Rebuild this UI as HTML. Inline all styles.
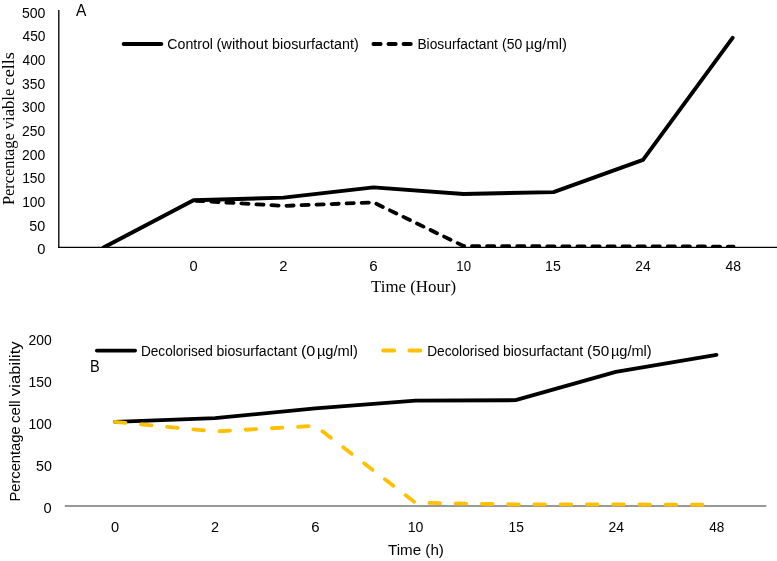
<!DOCTYPE html>
<html>
<head>
<meta charset="utf-8">
<title>Charts</title>
<style>
html,body{margin:0;padding:0;background:#fff;}
body{width:777px;height:561px;overflow:hidden;font-family:"Liberation Sans",sans-serif;}
svg{display:block;will-change:transform;}
.s{font-family:"Liberation Sans",sans-serif;fill:#000;}
.r{font-family:"Liberation Serif",serif;fill:#000;}
</style>
</head>
<body>
<svg width="777" height="561" viewBox="0 0 777 561">
<rect x="0" y="0" width="777" height="561" fill="#ffffff"/>
<defs>
<clipPath id="clipA"><rect x="59" y="0" width="718" height="247.4"/></clipPath>
</defs>

<!-- text -->
<text class="s" font-size="13.8" x="167.34" y="48.90" textLength="45.68" lengthAdjust="spacingAndGlyphs">Control</text>
<text class="s" font-size="13.8" x="216.44" y="48.90" textLength="51.54" lengthAdjust="spacingAndGlyphs">(without</text>
<text class="s" font-size="13.8" x="272.05" y="48.90" textLength="86.64" lengthAdjust="spacingAndGlyphs">biosurfactant)</text>
<text class="s" font-size="13.8" x="417.39" y="48.90" textLength="80.54" lengthAdjust="spacingAndGlyphs">Biosurfactant</text>
<text class="s" font-size="13.8" x="502.08" y="48.90" textLength="20.25" lengthAdjust="spacingAndGlyphs">(50</text>
<text class="s" font-size="13.8" x="525.60" y="48.90" textLength="41.29" lengthAdjust="spacingAndGlyphs">µg/ml)</text>
<text class="s" font-size="13.8" x="140.91" y="355.50" textLength="72.01" lengthAdjust="spacingAndGlyphs">Decolorised</text>
<text class="s" font-size="13.8" x="216.53" y="355.50" textLength="80.75" lengthAdjust="spacingAndGlyphs">biosurfactant</text>
<text class="s" font-size="13.8" x="300.95" y="355.50" textLength="14.42" lengthAdjust="spacingAndGlyphs">(0</text>
<text class="s" font-size="13.8" x="316.91" y="355.50" textLength="40.99" lengthAdjust="spacingAndGlyphs">µg/ml)</text>
<text class="s" font-size="13.8" x="427.18" y="355.50" textLength="72.28" lengthAdjust="spacingAndGlyphs">Decolorised</text>
<text class="s" font-size="13.8" x="502.94" y="355.50" textLength="80.22" lengthAdjust="spacingAndGlyphs">biosurfactant</text>
<text class="s" font-size="13.8" x="587.08" y="355.50" textLength="22.11" lengthAdjust="spacingAndGlyphs">(50</text>
<text class="s" font-size="13.8" x="610.93" y="355.50" textLength="40.78" lengthAdjust="spacingAndGlyphs">µg/ml)</text>
<text class="s" font-size="13.8" x="37.16" y="254.35" textLength="8.17" lengthAdjust="spacingAndGlyphs">0</text>
<text class="s" font-size="13.8" x="29.31" y="230.66" textLength="15.96" lengthAdjust="spacingAndGlyphs">50</text>
<text class="s" font-size="13.8" x="22.16" y="206.98" textLength="23.15" lengthAdjust="spacingAndGlyphs">100</text>
<text class="s" font-size="13.8" x="22.16" y="183.30" textLength="23.15" lengthAdjust="spacingAndGlyphs">150</text>
<text class="s" font-size="13.8" x="22.11" y="159.61" textLength="23.18" lengthAdjust="spacingAndGlyphs">200</text>
<text class="s" font-size="13.8" x="22.11" y="135.93" textLength="23.18" lengthAdjust="spacingAndGlyphs">250</text>
<text class="s" font-size="13.8" x="22.12" y="112.24" textLength="23.16" lengthAdjust="spacingAndGlyphs">300</text>
<text class="s" font-size="13.8" x="22.12" y="88.56" textLength="23.16" lengthAdjust="spacingAndGlyphs">350</text>
<text class="s" font-size="13.8" x="22.50" y="64.87" textLength="22.93" lengthAdjust="spacingAndGlyphs">400</text>
<text class="s" font-size="13.8" x="22.50" y="41.19" textLength="22.93" lengthAdjust="spacingAndGlyphs">450</text>
<text class="s" font-size="13.8" x="21.91" y="17.50" textLength="23.47" lengthAdjust="spacingAndGlyphs">500</text>
<text class="s" font-size="13.8" x="189.42" y="271.20" textLength="8.16" lengthAdjust="spacingAndGlyphs">0</text>
<text class="s" font-size="13.8" x="279.29" y="271.20" textLength="8.22" lengthAdjust="spacingAndGlyphs">2</text>
<text class="s" font-size="13.8" x="369.28" y="271.20" textLength="8.44" lengthAdjust="spacingAndGlyphs">6</text>
<text class="s" font-size="13.8" x="456.32" y="271.20" textLength="14.67" lengthAdjust="spacingAndGlyphs">10</text>
<text class="s" font-size="13.8" x="545.02" y="271.20" textLength="15.79" lengthAdjust="spacingAndGlyphs">15</text>
<text class="s" font-size="13.8" x="635.31" y="271.20" textLength="15.30" lengthAdjust="spacingAndGlyphs">24</text>
<text class="s" font-size="13.8" x="725.48" y="271.20" textLength="15.54" lengthAdjust="spacingAndGlyphs">48</text>
<text class="s" font-size="13.8" x="28.53" y="344.60" textLength="23.25" lengthAdjust="spacingAndGlyphs">200</text>
<text class="s" font-size="13.8" x="28.55" y="386.80" textLength="23.28" lengthAdjust="spacingAndGlyphs">150</text>
<text class="s" font-size="13.8" x="28.55" y="429.00" textLength="23.28" lengthAdjust="spacingAndGlyphs">100</text>
<text class="s" font-size="13.8" x="35.97" y="470.90" textLength="15.89" lengthAdjust="spacingAndGlyphs">50</text>
<text class="s" font-size="13.8" x="43.64" y="513.00" textLength="8.16" lengthAdjust="spacingAndGlyphs">0</text>
<text class="s" font-size="13.8" x="111.04" y="531.90" textLength="8.11" lengthAdjust="spacingAndGlyphs">0</text>
<text class="s" font-size="13.8" x="210.95" y="531.90" textLength="8.07" lengthAdjust="spacingAndGlyphs">2</text>
<text class="s" font-size="13.8" x="311.35" y="531.90" textLength="8.35" lengthAdjust="spacingAndGlyphs">6</text>
<text class="s" font-size="13.8" x="407.72" y="531.90" textLength="15.71" lengthAdjust="spacingAndGlyphs">10</text>
<text class="s" font-size="13.8" x="508.52" y="531.90" textLength="15.32" lengthAdjust="spacingAndGlyphs">15</text>
<text class="s" font-size="13.8" x="608.49" y="531.90" textLength="15.48" lengthAdjust="spacingAndGlyphs">24</text>
<text class="s" font-size="13.8" x="709.20" y="531.90" textLength="15.08" lengthAdjust="spacingAndGlyphs">48</text>
<text class="s" font-size="16.4" x="76.03" y="15.60" textLength="10.36" lengthAdjust="spacingAndGlyphs">A</text>
<text class="s" font-size="16.4" x="90.04" y="372.30" textLength="9.72" lengthAdjust="spacingAndGlyphs">B</text>
<text class="r" font-size="16" x="371.10" y="291.60" textLength="84.93" lengthAdjust="spacingAndGlyphs">Time (Hour)</text>
<text class="s" font-size="15.5" x="388.00" y="555.20" textLength="55.88" lengthAdjust="spacingAndGlyphs">Time (h)</text>
<text class="r" font-size="16" transform="translate(14.0,204.2) rotate(-90)" x="-0.93" y="0" textLength="71.97" lengthAdjust="spacingAndGlyphs">Percentage</text>
<text class="r" font-size="16" transform="translate(14.0,204.2) rotate(-90)" x="74.93" y="0" textLength="40.60" lengthAdjust="spacingAndGlyphs">viable</text>
<text class="r" font-size="16" transform="translate(14.0,204.2) rotate(-90)" x="118.75" y="0" textLength="33.37" lengthAdjust="spacingAndGlyphs">cells</text>
<text class="s" font-size="15.5" transform="translate(20.3,500.3) rotate(-90)" x="-1.20" y="0" textLength="75.11" lengthAdjust="spacingAndGlyphs">Percentage</text>
<text class="s" font-size="15.5" transform="translate(20.3,500.3) rotate(-90)" x="77.39" y="0" textLength="22.51" lengthAdjust="spacingAndGlyphs">cell</text>
<text class="s" font-size="15.5" transform="translate(20.3,500.3) rotate(-90)" x="104.17" y="0" textLength="54.80" lengthAdjust="spacingAndGlyphs">viability</text>

<!-- Chart A axes -->
<line x1="58.8" y1="10.1" x2="58.8" y2="247.9" stroke="#000" stroke-width="1.35"/>
<line x1="58.2" y1="247.34" x2="777" y2="247.34" stroke="#000" stroke-width="1.28"/>

<!-- Chart A series -->
<g clip-path="url(#clipA)" fill="none" stroke="#000" stroke-width="3.9" stroke-linejoin="round" stroke-linecap="round">
<polyline stroke-width="3.8" stroke-dasharray="7.2 7.85" stroke-dashoffset="-2.8" points="193.5,200.6 283.5,205.9 373.5,202.4 463.5,246 553.5,246.3 643.5,246.3 733.5,246.6"/>
<polyline points="103.5,247.6 193.5,200.3 283.5,197.6 373.5,187.4 463.5,194.0 553.5,192.1 643.0,159.8 732.6,37.9"/>
</g>

<!-- Chart A legend -->
<line x1="123.7" y1="43.9" x2="161.3" y2="43.9" stroke="#000" stroke-width="4" stroke-linecap="round"/>
<line x1="373.4" y1="44.0" x2="413" y2="44.0" stroke="#000" stroke-width="3.8" stroke-linecap="round" stroke-dasharray="7.3 7.75"/>

<!-- Chart B axis -->
<line x1="64.8" y1="506" x2="766.3" y2="506" stroke="#989898" stroke-width="1.9"/>

<!-- Chart B series -->
<g fill="none" stroke-width="3.8" stroke-linejoin="round" stroke-linecap="round">
<polyline stroke="#000" points="114.8,421.8 215,418.1 315.2,408.3 415.4,400.7 515.6,400.2 615.8,371.9 716.5,354.8"/>
<polyline stroke="#FFC000" stroke-dasharray="10.6 15.65" points="114.9,421.8 215,431.5 315.2,425.8 415.4,502.7 515.6,504.4 615.8,504.4 716,504.8"/>
</g>

<!-- Chart B legend -->
<line x1="96.9" y1="350.6" x2="135.1" y2="350.6" stroke="#000" stroke-width="3.8" stroke-linecap="round"/>
<line x1="383.1" y1="350.5" x2="420.8" y2="350.5" stroke="#FFC000" stroke-width="3.8" stroke-linecap="round" stroke-dasharray="11.1 15.15"/>
</svg>
</body>
</html>
